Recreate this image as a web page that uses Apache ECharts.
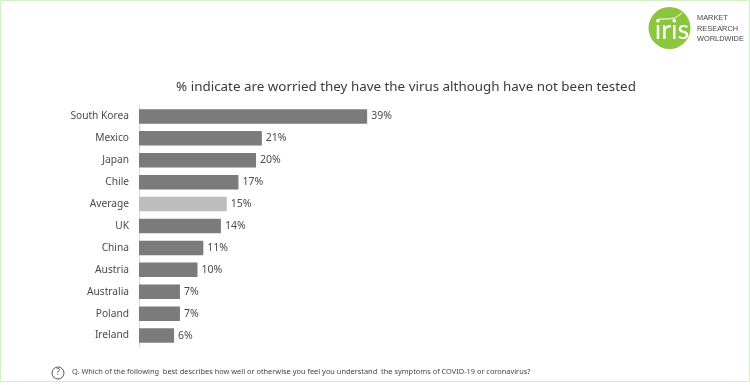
<!DOCTYPE html>
<html><head><meta charset="utf-8">
<style>html,body{margin:0;padding:0;background:#fff}#c{width:750px;height:385px}</style>
<script src="https://cdn.jsdelivr.net/npm/echarts@6/dist/echarts.min.js"></script>
</head><body><div id="c"></div>
<script>
const categories = ["South Korea","Mexico","Japan","Chile","Average","UK","China","Austria","Australia","Poland","Ireland"];
const values = [39,21,20,17,15,14,11,10,7,7,6];
const highlighted = "Average";
const titleText = "% indicate are worried they have the virus although have not been tested";
const questionText = "Q. Which of the following  best describes how well or otherwise you feel you understand  the symptoms of COVID-19 or coronavirus?";
const logoLines = ["MARKET","RESEARCH","WORLDWIDE"];
const font = "'Noto Sans', sans-serif";
const chart = echarts.init(document.getElementById('c'));
chart.setOption({
  animation:false,
  backgroundColor:'#fff',
  title:{text:titleText,left:401,top:76,textAlign:'center',textStyle:{fontFamily:font,fontSize:13.4,fontWeight:'normal',color:'#3a3a3a'}},
  grid:{left:139,top:105.5,width:351,height:241,containLabel:false},
  xAxis:{type:'value',min:0,max:60,show:false},
  yAxis:{type:'category',inverse:true,data:categories,
    axisLine:{show:true,lineStyle:{color:'#d9d9d9',width:1}},axisTick:{show:false},
    axisLabel:{fontFamily:font,fontSize:10.2,color:'#4a4a4a',margin:10}},
  series:[{type:'bar',barWidth:14.5,
    data:values.map((v,i)=>({value:v,itemStyle:{color:categories[i]===highlighted?'#bdbdbd':'#7b7b7b'}})),
    label:{show:true,position:'right',distance:4,formatter:'{c}%',fontFamily:font,fontSize:10.5,color:'#4a4a4a'}}],
  graphic:[
    {type:'rect',shape:{x:0.5,y:0.5,width:749,height:381},style:{fill:'none',stroke:'#d3f0c4',lineWidth:1},silent:true},
    {type:'circle',shape:{cx:669.5,cy:28,r:21},style:{fill:'#8cc63f'}},
    {type:'text',style:{x:672,y:30,text:'iris',align:'center',verticalAlign:'middle',fill:'#fff',font:"27px Lato, sans-serif"}},
    {type:'polyline',shape:{points:[[659,19],[668,19],[675,18],[682,13]]},style:{stroke:'#fff',fill:'none',lineWidth:1}},
    {type:'text',style:{x:697,y:13,text:logoLines.join('\n'),lineHeight:10.5,fill:'#444',font:"7.4px 'Liberation Sans', sans-serif"}},
    {type:'circle',shape:{cx:58,cy:373,r:6},style:{fill:'none',stroke:'#555',lineWidth:1}},
    {type:'text',style:{x:58,y:373,text:'?',align:'center',verticalAlign:'middle',fill:'#555',font:"8.5px "+font}},
    {type:'text',style:{x:72,y:372,text:questionText,verticalAlign:'middle',fill:'#444',font:"7.4px "+font}}
  ]
});
</script></body></html>
